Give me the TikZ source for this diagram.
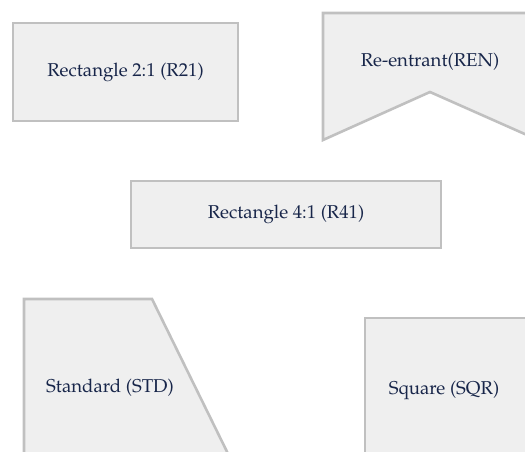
\documentclass[tikz,border=0pt]{standalone}
\usepackage[T1]{fontenc}
\renewcommand{\rmdefault}{ppl}
\usepackage{tikz}
\usetikzlibrary{positioning}
\definecolor{shapefill}{HTML}{EFEFEF}
\definecolor{shapeline}{HTML}{C0C0C0}
\definecolor{labeltext}{HTML}{18264A}
\begin{document}
\begin{tikzpicture}[x=1pt, y=-1pt]
\tikzstyle{plate}=[fill=shapefill, draw=shapeline, line width=2.6pt, line join=miter]
\tikzstyle{label}=[text=labeltext, font=\fontsize{18.6}{21}\selectfont, inner sep=0pt]
\useasboundingbox (0,0) rectangle (525,452);
\clip (0,0) rectangle (525,452);

% Rectangle 2:1
\draw [plate] (13,23) rectangle (238,121);
\node (r21) [label] at (125.5,72) {Rectangle 2:1 (R21)};

% Re-entrant
\draw [plate] (323,13) -- (545,13) -- (545,143) -- (430,92) -- (323,140) -- cycle;
\node (ren) [label] at (430,62) {Re-entrant(REN)};

% Rectangle 4:1
\draw [plate] (131,181) rectangle (441,248);
\node (r41) [label] at (286,214.5) {Rectangle 4:1 (R41)};

% Standard
\draw [plate] (24,470) -- (24,299) -- (152,299) -- (236,470) -- cycle;
\node (std) [label] at (110,388) {Standard (STD)};

% Square
\draw [plate] (365,470) -- (365,318) -- (545,318) -- (545,470) -- cycle;
\node (sqr) [label] at (444,390) {Square (SQR)};

\end{tikzpicture}
\end{document}
